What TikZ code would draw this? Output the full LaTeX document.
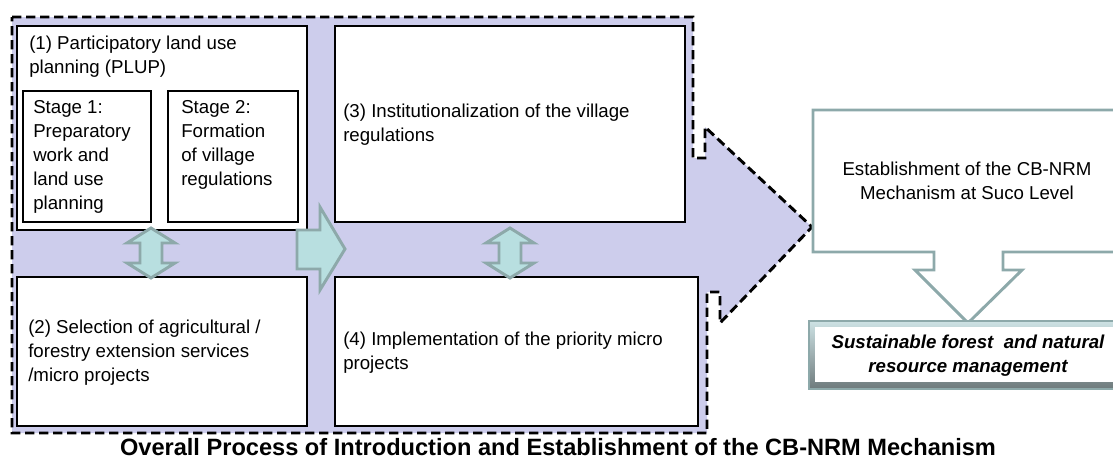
\documentclass[tikz,border=0pt]{standalone}
\usepackage{fontspec}
\setmainfont{Liberation Sans}
\usepackage{xcolor}
\definecolor{band}{RGB}{205, 205, 236}
\definecolor{tealfill}{RGB}{184, 223, 224}
\definecolor{tealline}{RGB}{141, 169, 170}
\definecolor{bevtop}{RGB}{205, 226, 228}
\definecolor{bevbot}{RGB}{110, 122, 124}

\begin{document}
\begin{tikzpicture}[x=0.75pt, y=-0.75pt,
        box/.style={draw=black, fill=white, line width=0.8pt},
        txt/.style={align=left, anchor=west, inner sep=0pt, font=\fontsize{14}{18}\selectfont},
        blockarrow/.style={draw=tealline, fill=tealfill, line width=2.2pt, line join=miter}]
        \useasboundingbox (0,0) rectangle (1113,461);
        \clip (0,0) rectangle (1113,461);
        % big process arrow
        \draw[band, fill=band, line width=2.2pt, draw=black, dash pattern=on 7pt off 3.5pt]
            (12,17)--(693,17)--(693,158)--(705,158)--(705,127)--(812,227)
            --(720,323)--(720,292)--(707,292)--(707,433)--(12,433)--cycle;
        % step boxes
        \draw[box] (17,26) rectangle (307,230);
        \draw[box] (23,91) rectangle (151,222);
        \draw[box] (168,91) rectangle (298,222);
        \draw[box] (335,26) rectangle (685,222);
        \draw[box] (17,277) rectangle (307,426);
        \draw[box] (335,277) rectangle (698,426);
        \node[txt](plup) at (29,57) {(1) Participatory land use\\planning (PLUP)};
        \node[txt](stage1) at (33,157) {Stage 1:\\Preparatory\\work and\\land use\\planning};
        \node[txt](stage2) at (181,145) {Stage 2:\\Formation\\of village\\regulations};
        \node[txt](villreg) at (343,125) {(3) Institutionalization of the village\\regulations};
        \node[txt](select) at (28,353) {(2) Selection of agricultural /\\forestry extension services\\/micro projects};
        \node[txt](implem) at (343,353) {(4) Implementation of the priority micro\\projects};
        % block arrows
        \foreach \cx in {151,510}
            \draw[blockarrow] (\cx,228)--(\cx+24,243)--(\cx+11,243)--(\cx+11,263)--(\cx+24,263)
                --(\cx,278)--(\cx-24,263)--(\cx-11,263)--(\cx-11,243)--(\cx-24,243)--cycle;
        \draw[blockarrow] (297,230)--(320,230)--(320,207)--(345,249)--(320,290)--(320,269)--(297,269)--cycle;
        % CB-NRM mechanism
        \draw[tealline, fill=white, line width=2.2pt, line join=miter]
            (813,110)--(1130,110)--(1130,252)--(1003,252)--(1003,270)--(1022,270)--(968,323)
            --(915,270)--(934,270)--(934,252)--(813,252)--cycle;
        \node[txt, align=center, anchor=center](establish) at (967,181) {Establishment of the CB-NRM\\Mechanism at Suco Level};
        \shade[top color=bevtop, bottom color=bevbot] (809,321) rectangle (1130,389);
        \fill[white] (815,327) rectangle (1130,382);
        \draw[tealline, line width=0.8pt] (809,321) rectangle (1130,389);
        \node[txt, align=center, anchor=center, font=\fontsize{14}{18}\selectfont\bfseries\itshape](sustain) at (968,356) {Sustainable forest \ and natural\\resource management};
        \node[anchor=center, inner sep=0pt, font=\fontsize{17.7}{20}\selectfont\bfseries](title) at (558,447) {Overall Process of Introduction and Establishment of the CB-NRM Mechanism};
    \end{tikzpicture}
\end{document}
